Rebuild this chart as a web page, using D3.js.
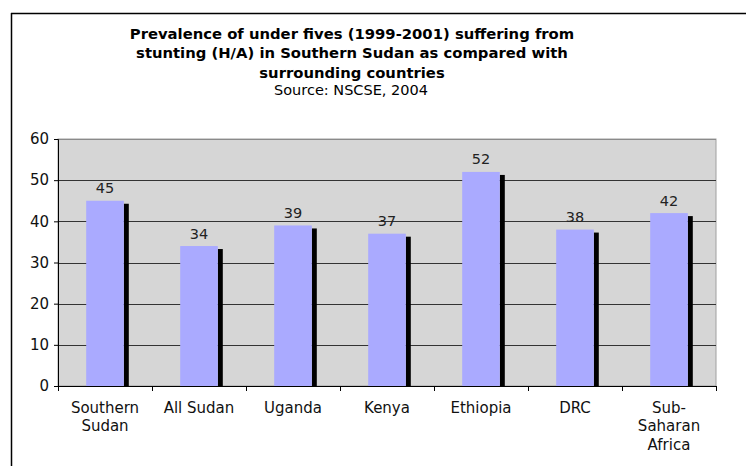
<!DOCTYPE html>
<html>
<head>
<meta charset="utf-8">
<script src="https://cdn.jsdelivr.net/npm/d3@7"></script>
<style>
  body { margin: 0; background: #fff; }
  svg { display: block; font-family: "DejaVu Sans", Verdana, sans-serif; }
</style>
</head>
<body>
<svg id="chart" width="746" height="466"></svg>
<script>
var categories = [["Southern", "Sudan"], ["All Sudan"], ["Uganda"], ["Kenya"], ["Ethiopia"], ["DRC"], ["Sub-", "Saharan", "Africa"]];
var values = [45, 34, 39, 37, 52, 38, 42];
var yTicks = [0, 10, 20, 30, 40, 50, 60];
var titleLines = ["Prevalence of under fives (1999-2001) suffering from",
                  "stunting (H/A) in Southern Sudan as compared with",
                  "surrounding countries"];
var sourceLine = "Source: NSCSE, 2004";

var svg = d3.select("#chart");
var margin = {left: 58, right: 30, top: 139, bottom: 80};
var plotW = 746 - margin.left - margin.right,
    plotH = 466 - margin.top - margin.bottom;

// outer frame (only top and left edges visible)
svg.append("line").attr("x1", 11).attr("x2", 746).attr("y1", 13.5).attr("y2", 13.5)
  .attr("stroke", "#000").attr("stroke-width", 1.5);
svg.append("line").attr("x1", 11.5).attr("x2", 11.5).attr("y1", 13).attr("y2", 466)
  .attr("stroke", "#000").attr("stroke-width", 1.5);

// title
var title = svg.append("text").attr("text-anchor", "middle")
  .attr("font-weight", "bold").attr("font-size", 14.8).attr("fill", "#000");
titleLines.forEach(function(t, i) {
  title.append("tspan").attr("x", 352).attr("y", 38.5 + i * 19.5).text(t);
});
svg.append("text").attr("text-anchor", "middle").attr("x", 351).attr("y", 95)
  .attr("font-size", 14.5).text(sourceLine);

var x = d3.scaleBand().domain(d3.range(values.length)).range([0, plotW]).paddingInner(0).paddingOuter(0);
var y = d3.scaleLinear().domain([0, 60]).range([plotH, 0]);

var g = svg.append("g").attr("transform", "translate(" + margin.left + "," + margin.top + ")");

g.append("rect").attr("width", plotW).attr("height", plotH).attr("fill", "#d6d6d6")
  .attr("stroke", "#a0a0a0").attr("stroke-width", 1);

// gridlines
g.selectAll("line.grid").data(yTicks.slice(1)).enter().append("line")
  .attr("class", "grid")
  .attr("x1", 0).attr("x2", plotW)
  .attr("y1", function(d) { return Math.round(y(d)) + 0.5; })
  .attr("y2", function(d) { return Math.round(y(d)) + 0.5; })
  .attr("stroke", function(d) { return d == 60 ? "#8a8a8a" : "#333"; })
  .attr("stroke-width", 1);

var barW = x.bandwidth() * 0.4;
var bars = g.selectAll("g.bar").data(values).enter().append("g").attr("class", "bar");
// shadow
bars.append("rect")
  .attr("x", function(d, i) { return x(i) + (x.bandwidth() - barW) / 2 + barW; })
  .attr("y", function(d) { return y(d) + 3; })
  .attr("width", 5)
  .attr("height", function(d) { return plotH - y(d) - 3; })
  .attr("fill", "#000");
bars.append("rect")
  .attr("x", function(d, i) { return x(i) + (x.bandwidth() - barW) / 2; })
  .attr("y", function(d) { return y(d); })
  .attr("width", barW)
  .attr("height", function(d) { return plotH - y(d); })
  .attr("fill", "#aaaaff");
bars.append("text")
  .attr("x", function(d, i) { return x(i) + x.bandwidth() / 2; })
  .attr("y", function(d) { return y(d) - 7.5; })
  .attr("text-anchor", "middle").attr("font-size", 14.5).attr("fill", "#222")
  .text(function(d) { return d; });

// y axis
var yAxis = g.append("g").call(d3.axisLeft(y).tickValues(yTicks).tickSize(4).tickPadding(5));
yAxis.select(".domain").attr("stroke", "#000");
yAxis.selectAll("text").attr("font-size", 15).attr("font-family", "DejaVu Sans, Verdana, sans-serif").attr("fill", "#111");

// x axis
var xEdges = d3.range(values.length + 1).map(function(i) { return i * x.step(); });
var xAxis = g.append("g").attr("transform", "translate(0," + plotH + ")");
xAxis.append("line").attr("x1", 0).attr("x2", plotW).attr("y1", 0.5).attr("y2", 0.5).attr("stroke", "#000");
xAxis.selectAll("line.tick").data(xEdges).enter().append("line")
  .attr("x1", function(d) { return Math.round(d) + 0.5; })
  .attr("x2", function(d) { return Math.round(d) + 0.5; })
  .attr("y1", 0).attr("y2", 5).attr("stroke", "#000");
var labels = xAxis.selectAll("text.cat").data(categories).enter().append("text")
  .attr("class", "cat").attr("text-anchor", "middle").attr("font-size", 15).attr("fill", "#111");
labels.each(function(lines, i) {
  var t = d3.select(this);
  lines.forEach(function(l, j) {
    t.append("tspan").attr("x", x(i) + x.bandwidth() / 2).attr("y", 26.5 + j * 18.5).text(l);
  });
});
</script>
</body>
</html>
